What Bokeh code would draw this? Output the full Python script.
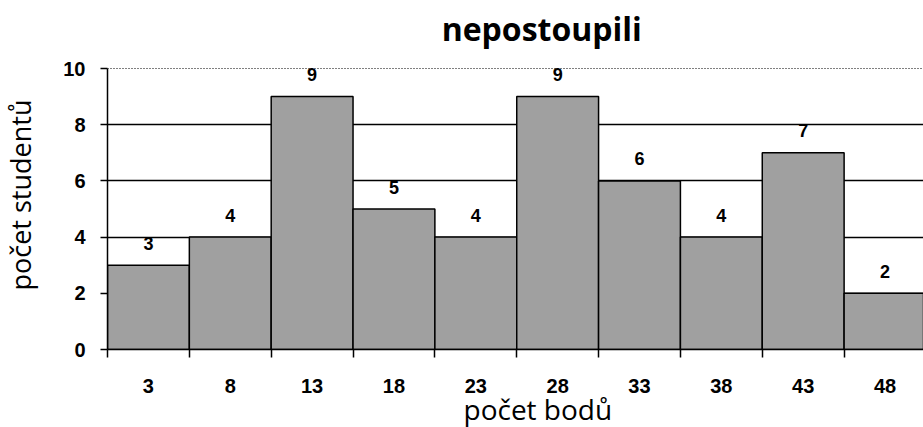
from bokeh.plotting import figure
from bokeh.models import (ColumnDataSource, FixedTicker, Range1d, Grid,
                          LabelSet, Label, Title, LinearAxis)
from bokeh.core.properties import value
from bokeh.embed import file_html
from bokeh.resources import INLINE

# ---- data ----
points = [3, 8, 13, 18, 23, 28, 33, 38, 43, 48]
students = [3, 4, 9, 5, 4, 9, 6, 4, 7, 2]
bin_width = 5
tick_labels = ["3", "8", "13", "18", "23", "28", "33", "38", "43", "48"]
y_ticks = [0, 2, 4, 6, 8, 10]
y_max = 10
title_text = "nepostoupili"
x_title = "počet bodů"
y_title = "počet studentů"

edges = [c - bin_width / 2 for c in points] + [points[-1] + bin_width / 2]

src = ColumnDataSource(dict(x=points, top=students,
                            label=[str(v) for v in students]))

# frame reaches the top of the canvas so the title can sit inside it
p = figure(width=923, height=427, output_backend="svg", toolbar_location=None,
           x_range=Range1d(0.5, 50.35), y_range=Range1d(0, 12.42),
           min_border_left=107, min_border_right=0, min_border_top=0,
           min_border_bottom=78)
p.outline_line_color = None
p.background_fill_color = "white"
p.border_fill_color = "white"

# grid
p.xgrid.visible = False
p.ygrid.ticker = FixedTicker(ticks=[2, 4, 6, 8])
p.ygrid.grid_line_color = "black"
p.ygrid.grid_line_width = 1.6
top_grid = Grid(dimension=1, ticker=FixedTicker(ticks=[y_max]),
                grid_line_color="black", grid_line_width=1,
                grid_line_dash="1 2")
p.add_layout(top_grid)

# bars
p.vbar(x="x", top="top", bottom=0, width=bin_width, source=src,
       fill_color="#a0a0a0", line_color="black", line_width=1.5)

# value labels
lbls = LabelSet(x="x", y="top", text="label", source=src, y_offset=22,
                text_align="center", text_baseline="middle",
                text_font=value("Liberation Sans"), text_font_style="bold",
                text_font_size="18px", text_color="black")
p.add_layout(lbls)

# x axis
xa = p.xaxis[0]
xa.ticker = FixedTicker(ticks=points, minor_ticks=edges)
xa.major_label_overrides = {c: t for c, t in zip(points, tick_labels)}
xa.major_tick_out = 0
xa.major_tick_in = 0
xa.minor_tick_out = 8
xa.minor_tick_in = 0
xa.minor_tick_line_color = "black"
xa.minor_tick_line_width = 1.5
xa.axis_line_color = "black"
xa.axis_line_width = 1.5
xa.major_label_standoff = 21
xa.major_label_text_font = "Liberation Sans"
xa.major_label_text_font_style = "bold"
xa.major_label_text_font_size = "20px"
xa.major_label_text_color = "black"

# y axis
ya = p.yaxis[0]
ya.ticker = FixedTicker(ticks=y_ticks)
ya.bounds = (0, y_max)
ya.major_tick_out = 7
ya.major_tick_in = 0
ya.minor_tick_line_color = None
ya.major_tick_line_color = "black"
ya.major_tick_line_width = 1.5
ya.axis_line_color = "black"
ya.axis_line_width = 1.5
ya.major_label_standoff = 15
ya.major_label_text_font = "Liberation Sans"
ya.major_label_text_font_style = "bold"
ya.major_label_text_font_size = "20px"
ya.major_label_text_color = "black"

# blank spacer axis between the y axis and the y title
spacer = LinearAxis(ticker=FixedTicker(ticks=[5]),
                    major_label_overrides={5: ""},
                    axis_line_color=None,
                    major_tick_line_color="white", minor_tick_line_color=None,
                    major_tick_out=20, major_tick_in=0, minor_tick_out=0,
                    minor_tick_in=0, major_label_standoff=0)
p.add_layout(spacer, "left")

# titles
p.add_layout(Title(text=y_title, align="left", offset=59, standoff=0,
                   vertical_align="top",
                   text_font="Open Sans", text_font_style="normal",
                   text_font_size="27px", text_color="black"), "left")
p.add_layout(Label(x=27.03, y=11.42, text=title_text, text_align="center",
                   text_baseline="alphabetic", text_font="Open Sans",
                   text_font_style="bold", text_font_size="32px",
                   text_color="black"))
p.add_layout(Title(text=x_title, align="left", offset=356, standoff=-12,
                   vertical_align="top",
                   text_font="Open Sans", text_font_style="normal",
                   text_font_size="28px", text_color="black"), "below")

open("out.html", "w").write(file_html(p, INLINE))
